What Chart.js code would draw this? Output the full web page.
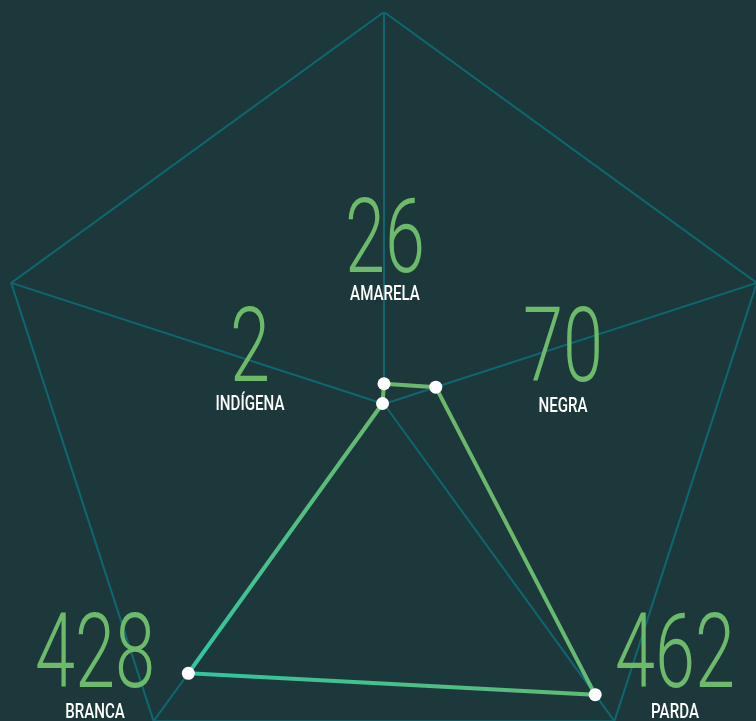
<!DOCTYPE html>
<html>
<head>
<meta charset="utf-8">
<script src="https://cdn.jsdelivr.net/npm/chart.js@4/dist/chart.umd.min.js"></script>
<style>
  html, body { margin: 0; padding: 0; width: 756px; height: 721px; overflow: hidden; background: #1d383b; }
  #wrap { position: absolute; left: -8px; top: 12px; width: 784px; height: 784px; }
</style>
</head>
<body>
<div id="wrap"><canvas id="radar" width="784" height="784"></canvas></div>
<script>
// data
const categories = ["AMARELA", "NEGRA", "PARDA", "BRANCA", "INDÍGENA"];
const values = [26, 70, 462, 428, 2];
const scaleMax = 504;

// label placement (offset from chart centre, px): number baseline / name baseline
const labelSpots = [
  { dx: 1,    num: -132, name: -104 },
  { dx: 179,  num: -23,  name: 8 },
  { dx: 291,  num: 283,  name: 314 },
  { dx: -289, num: 283,  name: 314 },
  { dx: -134, num: -23,  name: 6 }
];

const GRID = "#0e6770";

// draws the big number + category name for every axis
const bigLabels = {
  id: "bigLabels",
  beforeDatasetsDraw(chart) {
    const r = chart.scales.r;
    const ctx = chart.ctx;
    ctx.save();
    ctx.textAlign = "center";
    ctx.textBaseline = "alphabetic";
    categories.forEach((cat, i) => {
      const s = labelSpots[i];
      const x = r.xCenter + s.dx;
      // number
      ctx.save();
      ctx.translate(x, r.yCenter + s.num);
      ctx.scale(0.7, 1);
      ctx.fillStyle = "#6cba6a";
      ctx.font = "300 103px Roboto";
      ctx.fillText(String(values[i]), 0, 0);
      ctx.restore();
      // name
      ctx.save();
      ctx.translate(x, r.yCenter + s.name);
      ctx.scale(0.72, 1);
      ctx.fillStyle = "#ffffff";
      ctx.font = "500 21px Roboto";
      ctx.fillText(cat, 0, 0);
      ctx.restore();
    });
    ctx.restore();
  }
};

function lineGradient(context) {
  const chart = context.chart;
  const r = chart.scales.r;
  if (!chart.chartArea || !r) return "#55bf85";
  const g = chart.ctx.createLinearGradient(r.xCenter - 232, r.yCenter + 232, r.xCenter, r.yCenter);
  g.addColorStop(0, "#30c6a0");
  g.addColorStop(1, "#6bb86c");
  return g;
}

document.addEventListener("DOMContentLoaded", () => {
  new Chart(document.getElementById("radar"), {
    type: "radar",
    data: {
      labels: categories,
      datasets: [{
        data: values,
        borderColor: lineGradient,
        borderWidth: 4,
        fill: false,
        tension: 0,
        pointRadius: 6.5,
        pointHoverRadius: 6.5,
        pointBackgroundColor: "#ffffff",
        pointBorderWidth: 0
      }]
    },
    options: {
      responsive: false,
      animation: false,
      layout: { padding: 0 },
      plugins: { legend: { display: false }, tooltip: { enabled: false } },
      scales: {
        r: {
          min: 0,
          max: scaleMax,
          ticks: { display: false, stepSize: scaleMax },
          pointLabels: { display: false },
          grid: { color: GRID, lineWidth: 2 },
          angleLines: { color: GRID, lineWidth: 2 }
        }
      }
    },
    plugins: [bigLabels]
  });
});
</script>
</body>
</html>
